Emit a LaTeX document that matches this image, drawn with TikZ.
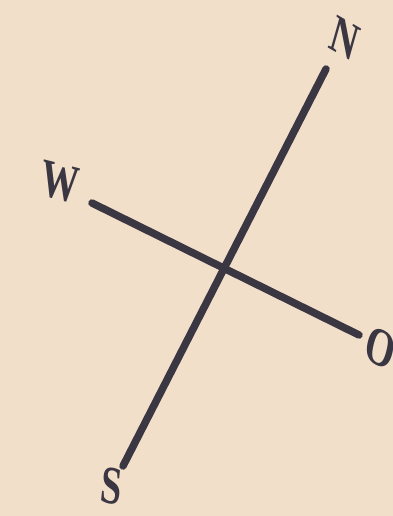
\documentclass[tikz,border=0pt]{standalone}
\usepackage{fontspec}
\newfontfamily\labelfont{Liberation Serif}
\begin{document}
\begin{tikzpicture}[x=1pt,y=-1pt]
\definecolor{paper}{RGB}{241,223,202}
\definecolor{ink}{RGB}{58,54,66}
\tikzset{axisline/.style={ink,line width=7.5pt,line cap=round},
  dirlabel/.style={ink,font=\labelfont\bfseries\fontsize{54}{54}\selectfont,inner sep=0pt,xscale=0.7}}
\useasboundingbox (0,0) rectangle (393,516);
\clip (0,0) rectangle (393,516);
\fill[paper] (0,0) rectangle (393,516);
\coordinate (nEnd) at (326,69);
\coordinate (sEnd) at (123,466);
\coordinate (wEnd) at (92,203);
\coordinate (oEnd) at (359,335);
\draw[axisline] (nEnd) -- (sEnd);
\draw[axisline] (wEnd) -- (oEnd);
\node[dirlabel,rotate=-22] (N) at (345,38) {N};
\node[dirlabel,rotate=-10] (W) at (60,182) {W};
\node[dirlabel,rotate=-20] (O) at (381,348) {O};
\node[dirlabel,rotate=-8] (S) at (112,486) {S};
\end{tikzpicture}
\end{document}
